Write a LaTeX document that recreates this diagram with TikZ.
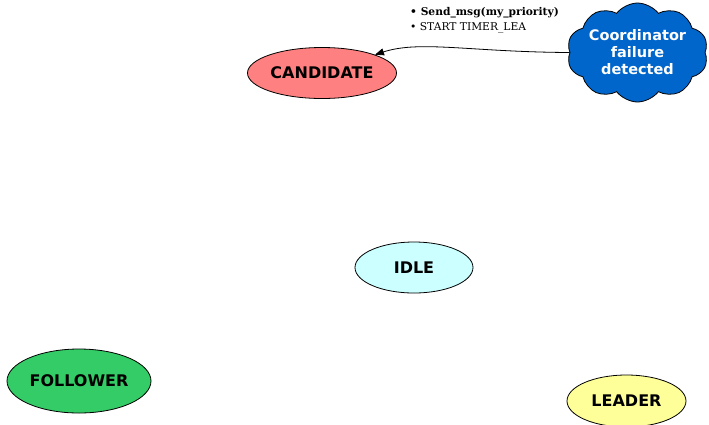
\documentclass[tikz,border=0pt]{standalone}
\usepackage{fontspec}
\setmainfont{DejaVu Serif}
\newfontfamily\statefont{DejaVu Sans}
\usetikzlibrary{shapes.geometric,shapes.symbols,arrows.meta}
\definecolor{candfill}{HTML}{FF8080}
\definecolor{idlefill}{HTML}{CCFFFF}
\definecolor{follfill}{HTML}{33CC66}
\definecolor{leadfill}{HTML}{FFFF99}
\definecolor{cloudfill}{HTML}{0066CC}
\tikzset{
  state/.style={ellipse, draw=black, line width=0.8pt, inner sep=0pt,
    font=\statefont\fontsize{16}{19}\selectfont\bfseries},
  event/.style={cloud, cloud puffs=10, cloud puff arc=105, cloud ignores aspect,
    draw=black, line width=0.8pt, fill=cloudfill, text=white, inner sep=0pt,
    align=center, font=\statefont\fontsize{14.5}{17}\selectfont\bfseries},
  trans/.style={draw=black, line width=0.8pt, -{Triangle[length=9pt,width=7pt]}},
  note/.style={align=left, inner sep=0pt, anchor=north west,
    font=\fontsize{10.7}{15.5}\selectfont}
}
\begin{document}
\begin{tikzpicture}[x=1pt,y=-1pt]
\useasboundingbox (0,0) rectangle (709,424);
\node[state, fill=candfill, minimum width=149pt, minimum height=51pt] (cand) at (322,73) {CANDIDATE};
\node[state, fill=idlefill, minimum width=118pt, minimum height=51pt] (idle) at (414,267.5) {IDLE};
\node[state, fill=follfill, minimum width=144pt, minimum height=64pt] (foll) at (79,381) {FOLLOWER};
\node[state, fill=leadfill, minimum width=119pt, minimum height=52pt] (lead) at (626.5,401) {LEADER};
\node[event, minimum width=141pt, minimum height=99pt] (fail) at (637.5,52.5) {Coordinator\\failure\\detected};
\draw[trans] (fail.west) .. controls (470,52) and (420,40) .. (cand.north east);
\node[note] (lbl) at (410,7) {\textbf{• Send\_msg(my\_priority)}\\• START TIMER\_LEA};
\end{tikzpicture}
\end{document}
